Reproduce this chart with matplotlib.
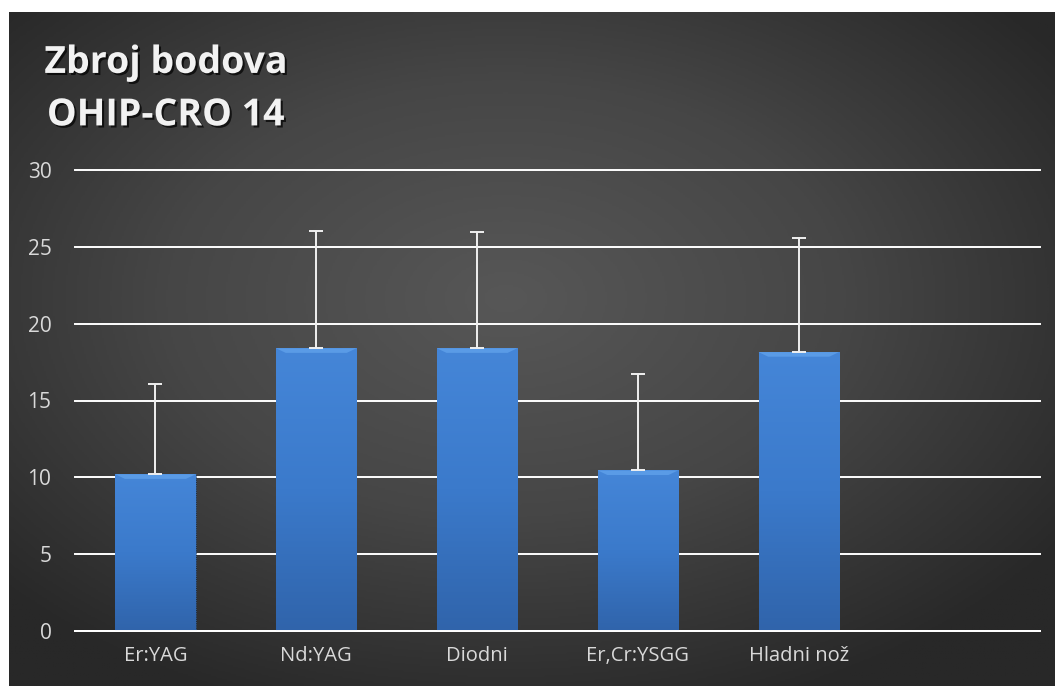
import numpy as np
import matplotlib
matplotlib.use('Agg')
import matplotlib.pyplot as plt
import matplotlib.patheffects as pe
from matplotlib.colors import LinearSegmentedColormap

# Podaci
kategorije = ['Er:YAG', 'Nd:YAG', 'Diodni', 'Er,Cr:YSGG', 'Hladni nož', '']
srednje = [10.2, 18.4, 18.4, 10.45, 18.15, 0]
sd = [5.9, 7.65, 7.55, 6.25, 7.4, 0]
n_bar = 5

plt.rcParams['font.family'] = ['Open Sans', 'DejaVu Sans']

fig = plt.figure(figsize=(10.55, 6.86), dpi=100)
fig.patch.set_facecolor('white')

# Pozadina - radijalni gradijent
bg = fig.add_axes([9 / 1055, 0, 1 - 9 / 1055, 1 - 12 / 686])
bg.set_axis_off()
yy, xx = np.mgrid[-1:1:400j, -1:1:600j]
r = np.sqrt((xx + 0.05) ** 2 + (yy + 0.15) ** 2)
r = np.clip(r / 1.3, 0, 1)
cmap_bg = LinearSegmentedColormap.from_list('bg', ['#575757', '#464646', '#282828'])
bg.imshow(r, cmap=cmap_bg, aspect='auto', extent=[0, 1, 0, 1], vmin=0, vmax=1)
bg.set_xlim(0, 1)
bg.set_ylim(0, 1)

# Naslov
bg.text(0.157, 0.870, 'Zbroj bodova\nOHIP-CRO 14', ha='center', va='center',
        transform=fig.transFigure, color='#f2f2f2', fontsize=27, fontweight='bold',
        linespacing=1.5,
        path_effects=[pe.SimplePatchShadow(offset=(1.5, -1.5), shadow_rgbFace='black', alpha=0.7),
                      pe.Normal()])

ax = fig.add_axes([75 / 1055, 55 / 686, 965 / 1055, 461 / 686])
ax.patch.set_alpha(0)

x = np.arange(len(kategorije))
bars = ax.bar(x[:n_bar], srednje[:n_bar], width=0.5, color='#3b78c8',
              edgecolor='#1a1a1a', linewidth=0.6, linestyle=':', zorder=3)

# Gradijent na stupcima
cmap_bar = LinearSegmentedColormap.from_list('bar', ['#4586d8', '#3b7acb', '#3064ab'])
grad = np.linspace(0, 1, 256).reshape(-1, 1)
for b in bars:
    x0, y0 = b.get_x(), b.get_y()
    w, h = b.get_width(), b.get_height()
    im = ax.imshow(grad, cmap=cmap_bar, aspect='auto', extent=[x0, x0 + w, y0, y0 + h],
                   zorder=3.5, origin='upper')
    im.set_clip_path(b)
    # svijetli rub na vrhu (kosina)
    ax.fill([x0, x0 + w, x0 + w - 0.06, x0 + 0.06], [y0 + h, y0 + h, y0 + h - 0.3, y0 + h - 0.3],
            color='#5a9be6', zorder=3.6, lw=0)

ax.errorbar(x[:n_bar], srednje[:n_bar], yerr=[np.zeros(n_bar), sd[:n_bar]], fmt='none',
            ecolor='#f0f0f0', elinewidth=1.4, capsize=5, capthick=1.4, zorder=4)

ax.set_xlim(-0.5, len(kategorije) - 0.5)
ax.set_ylim(0, 30)
ax.set_yticks(np.arange(0, 31, 5))
ax.yaxis.grid(True, color='white', linewidth=1.4, zorder=1)
for gl in ax.get_ygridlines():
    gl.set_clip_on(False)
ax.set_axisbelow(True)
ax.set_xticks(x)
ax.set_xticklabels(kategorije, fontsize=14.5)
ax.set_yticklabels([str(v) for v in range(0, 31, 5)], fontsize=15)
ax.tick_params(axis='both', length=0, colors='#d9d9d9')
ax.tick_params(axis='x', pad=11)
ax.tick_params(axis='y', pad=17)
for s in ['top', 'right', 'left']:
    ax.spines[s].set_visible(False)
ax.spines['bottom'].set_color('white')
ax.spines['bottom'].set_linewidth(1.4)
ax.spines['bottom'].set_zorder(5)

fig.savefig('out.png', dpi=100)
